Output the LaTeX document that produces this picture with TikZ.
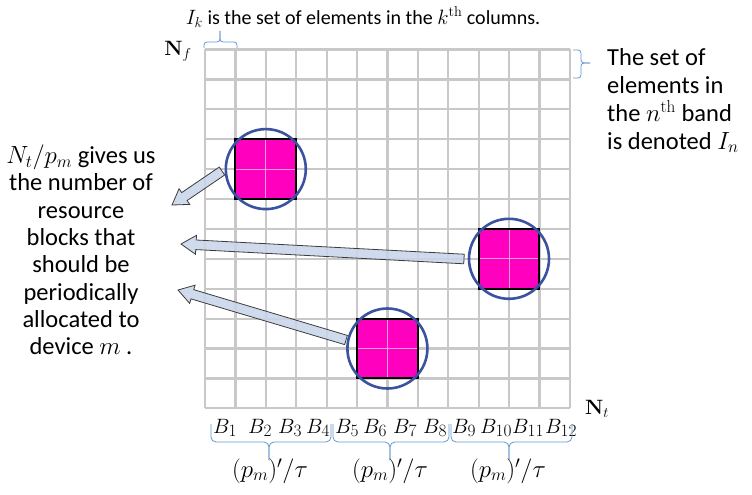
\documentclass[tikz,border=0pt]{standalone}
\usepackage[no-math]{fontspec}
\setmainfont{Carlito}
\usepackage{amsmath}
\usetikzlibrary{calc}
\DeclareMathSizes{20.74}{20.74}{17.28}{12}

\definecolor{gridgray}{RGB}{200,200,200}
\definecolor{blockpink}{RGB}{255,0,191}
\definecolor{innerpink}{RGB}{238,160,220}
\definecolor{ringblue}{RGB}{58,82,160}
\definecolor{bracecol}{RGB}{100,150,210}
\definecolor{arrowfill}{RGB}{200,212,234}
\definecolor{arrowline}{RGB}{60,60,60}

\tikzset{
  gridline/.style={gridgray, line width=2.2pt},
  ring/.style={ringblue, line width=2.6pt},
  curly/.style={bracecol, line width=0.8pt, rounded corners=#1},
  curly/.default=5pt,
  blockarrow/.style={fill=arrowfill, fill opacity=0.85, draw=arrowline, line width=0.8pt, line join=miter},
}

% block arrow from tail #1 to tip #2
\newcommand{\fatarrow}[2]{%
  \coordinate (fa-n) at ($(#2)!15pt!(#1)$);
  \draw[blockarrow] ($(#1)!4.8pt!90:(#2)$) -- ($(fa-n)!4.8pt!90:(#2)$)
    -- ($(fa-n)!9.5pt!90:(#2)$) -- (#2) -- ($(fa-n)!9.5pt!-90:(#2)$)
    -- ($(fa-n)!4.8pt!-90:(#2)$) -- ($(#1)!4.8pt!-90:(#2)$) -- cycle;
}

% brace under the columns: left x, right x, tip x
\newcommand{\colbrace}[3]{%
  \draw[curly] (#1,424) -- (#1,442) -- (#3,442) -- (#3,460);
  \draw[curly] (#2,424) -- (#2,442) -- (#3,442) -- (#3,460);
}

\begin{document}
\begin{tikzpicture}[x=1pt, y=-1pt, line cap=butt]
    \useasboundingbox (0,0) rectangle (752,495);
    \def\gx{205} \def\gy{49.5} \def\cw{30.4} \def\ch{29.9}

    % Resource grid (12 x 12)
    \foreach \i in {0,...,12} {
        \draw[gridline] ({\gx+\i*\cw},\gy) -- ({\gx+\i*\cw},{\gy+12*\ch});
        \draw[gridline] (\gx,{\gy+\i*\ch}) -- ({\gx+12*\cw},{\gy+\i*\ch});
    }

    % Allocated blocks (2 x 2 cells) with rings
    \foreach \c/\r/\n in {1/3/blkA, 9/6/blkB, 5/9/blkC} {
        \coordinate (\n-nw) at ({\gx+\c*\cw},{\gy+\r*\ch});
        \coordinate (\n-se) at ({\gx+(\c+2)*\cw},{\gy+(\r+2)*\ch});
        \coordinate (\n) at ($(\n-nw)!0.5!(\n-se)$);
        \fill[blockpink] (\n-nw) rectangle (\n-se);
        \draw[innerpink, line width=1pt] (\n-nw -| \n) -- (\n-se -| \n);
        \draw[innerpink, line width=1pt] (\n-nw |- \n) -- (\n-se |- \n);
        \draw[black, line width=2pt] (\n-nw) rectangle (\n-se);
        \draw[ring] (\n) circle[radius=40pt];
    }

    % Arrows to the description
    \coordinate (tailA) at (222,171);
    \coordinate (tipA) at (172,205);
    \coordinate (tailB) at (464,259);
    \coordinate (tipB) at (181,244);
    \coordinate (tailC) at (346,340);
    \coordinate (tipC) at (178,290);
    \fatarrow{tailA}{tipA}
    \fatarrow{tailB}{tipB}
    \fatarrow{tailC}{tipC}

    % Axis labels
    \node (Nf) at (178,51) {\fontsize{22}{24}\selectfont$\mathbf{N}_f$};
    \node (Nt) at (597,409) {\fontsize{22}{24}\selectfont$\mathbf{N}_t$};

    % Column labels
    \foreach \i/\x in {1/213, 2/248, 3/278, 4/306, 5/335, 6/363, 7/393, 8/423, 9/452, 10/480, 11/512, 12/545}
        \node[anchor=base west, inner sep=0pt] (B\i) at (\x,433) {\fontsize{20.74}{22}\selectfont$B_{\i}$};

    % Braces under the columns
    \colbrace{211}{331}{269}
    \colbrace{333}{449}{390}
    \colbrace{451}{572}{509}
    \foreach \n/\x in {perA/270, perB/390, perC/508}
        \node (\n) at (\x,471) {\fontsize{24}{26}\selectfont$(p_m)'/\tau$};

    % Brace over the first column
    \draw[curly=3pt] (204,48) -- (204,42) -- (220,42) -- (220,31);
    \draw[curly=3pt] (237,48) -- (237,42) -- (220,42) -- (220,31);
    \node (colnote) at (363,17) {\fontsize{20}{22}\selectfont$I_k$ is the set of elements in the $k^{\mathrm{th}}$ columns.};

    % Brace beside the first row
    \draw[curly=3pt] (573,50) -- (581,50) -- (581,63) -- (590,63);
    \draw[curly=3pt] (573,78) -- (581,78) -- (581,63) -- (590,63);
    \node[anchor=north west, align=left, inner sep=0pt, font=\fontsize{24.5}{28}\selectfont] (bandnote) at (607,48)
        {The set of\\ elements in\\ the $n^{\mathrm{th}}$ band\\ is denoted $I_n$};

    % Description on the left
    \node[align=center, inner sep=0pt, font=\fontsize{24.5}{27.3}\selectfont] (desc) at (81,250)
        {$N_t/p_m$ gives us\\ the number of\\ resource\\ blocks that\\ should be\\ periodically\\ allocated to\\ device $m$ .};
\end{tikzpicture}
\end{document}
